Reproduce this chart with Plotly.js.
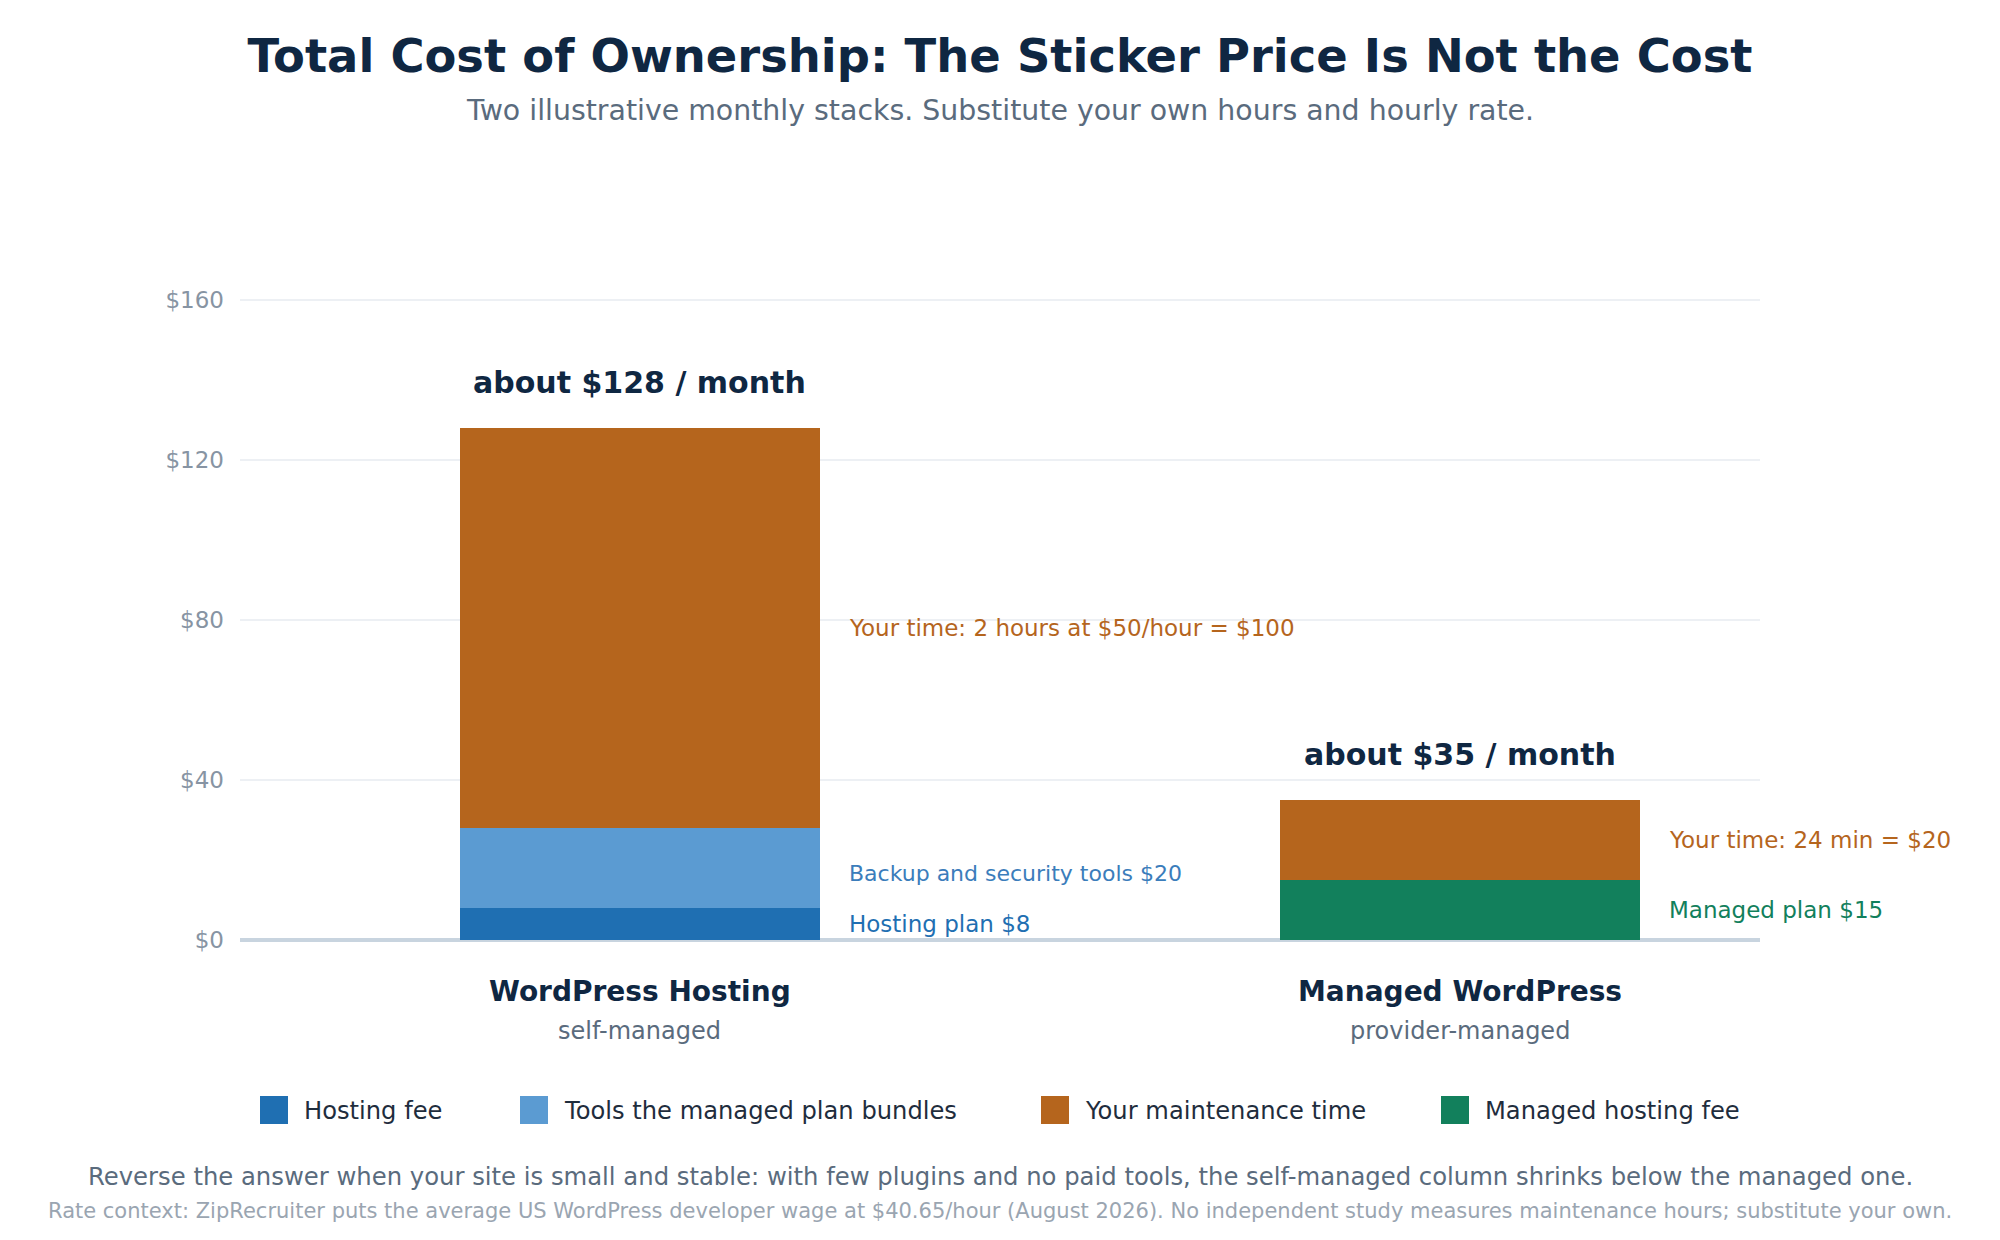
<!DOCTYPE html>
<html>
<head>
<meta charset="utf-8">
<script src="https://cdn.plot.ly/plotly-3.0.1.min.js"></script>
<style>
  body { margin: 0; background: #fff; }
  #tco { width: 2000px; height: 1240px; }
</style>
</head>
<body>
<div id="tco"></div>
<script>
// two illustrative monthly stacks
var columns = ['WordPress Hosting', 'Managed WordPress'];
var columnNotes = ['self-managed', 'provider-managed'];

var seriesNames = ['Hosting fee', 'Tools the managed plan bundles', 'Your maintenance time', 'Managed hosting fee'];
var hostingFee = [8, null];
var bundledTools = [20, null];
var maintenanceTime = [100, 20];
var managedFee = [null, 15];

var totalLabels = ['about $128 / month', 'about $35 / month'];
var hostingLabels = ['Hosting plan $8', null];
var toolsLabels = ['Backup and security tools $20', null];
var timeLabels = ['Your time: 2 hours at $50/hour = $100', 'Your time: 24 min = $20'];
var managedLabels = [null, 'Managed plan $15'];

var yTicks = [0, 40, 80, 120, 160];
var yTickText = ['$0', '$40', '$80', '$120', '$160'];

var subTitle = 'Two illustrative monthly stacks. Substitute your own hours and hourly rate.';
var footNote = 'Reverse the answer when your site is small and stable: with few plugins and no paid tools, the self-managed column shrinks below the managed one.';
var sourceNote = 'Rate context: ZipRecruiter puts the average US WordPress developer wage at $40.65/hour (August 2026). No independent study measures maintenance hours; substitute your own.';

var colors = {
    hosting: '#1f6fb2',
    tools: '#5b9bd2',
    time: '#b5651d',
    managed: '#12805c',
    toolsText: '#3b7dbb',
    ink: '#0f2742',
    legendInk: '#1f2d3d',
    muted: '#5a6b7d',
    faint: '#9aa5b1'
};

var FONT = 'DejaVu Sans, Verdana, sans-serif';
var W = 2000, H = 1240;
var M = {l: 240, r: 240, t: 260, b: 300};
var plotW = W - M.l - M.r, plotH = H - M.t - M.b;
var BAR_W = 0.439;
var xIdx = [0, 1];

// pixel on the page -> paper fraction
function px(X) { return (X - M.l) / plotW; }
function py(Y) { return (H - M.b - Y) / plotH; }

// stacking order, bottom to top (size/shift are just label styling)
var stack = [
    {key: 0, y: hostingFee, color: colors.hosting, label: hostingLabels, text: colors.hosting, size: 23, shift: 0},
    {key: 1, y: bundledTools, color: colors.tools, label: toolsLabels, text: colors.toolsText, size: 22, shift: -5},
    {key: 3, y: managedFee, color: colors.managed, label: managedLabels, text: colors.managed, size: 23, shift: 0},
    {key: 2, y: maintenanceTime, color: colors.time, label: timeLabels, text: colors.time, size: 23, shift: 0}
];

var data = stack.map(function (s) {
    return {
        type: 'bar',
        x: xIdx,
        y: s.y,
        name: seriesNames[s.key],
        width: BAR_W,
        marker: {color: s.color, line: {width: 0}},
        hoverinfo: 'name+y',
        showlegend: false
    };
});

var annotations = [];
var shapes = [];

// segment labels beside each block
var running = [0, 0];
stack.forEach(function (s) {
    s.y.forEach(function (v, i) {
        if (v == null) return;
        var mid = running[i] + v / 2;
        running[i] += v;
        if (s.label[i]) {
            annotations.push({
                x: xIdx[i] + BAR_W / 2, y: mid, xref: 'x', yref: 'y',
                xanchor: 'left', yanchor: 'middle', xshift: 27, yshift: s.shift,
                text: s.label[i], showarrow: false,
                font: {family: FONT, size: s.size, color: s.text}
            });
        }
    });
});

// totals on top, column names under the axis
running.forEach(function (tot, i) {
    annotations.push({
        x: xIdx[i], y: tot, xref: 'x', yref: 'y',
        yanchor: 'middle', yshift: 46,
        text: '<b>' + totalLabels[i] + '</b>', showarrow: false,
        font: {family: FONT, size: 30, color: colors.ink}
    });
    annotations.push({
        x: xIdx[i], y: 0, xref: 'x', yref: 'y',
        yanchor: 'middle', yshift: -51,
        text: '<b>' + columns[i] + '</b>', showarrow: false,
        font: {family: FONT, size: 28, color: colors.ink}
    });
    annotations.push({
        x: xIdx[i], y: 0, xref: 'x', yref: 'y',
        yanchor: 'middle', yshift: -91,
        text: columnNotes[i], showarrow: false,
        font: {family: FONT, size: 24, color: colors.muted}
    });
});

// legend drawn by hand so the swatches can be 28px
var legendColors = [colors.hosting, colors.tools, colors.time, colors.managed];
var legendX = [260, 520, 1041, 1441];
seriesNames.forEach(function (name, i) {
    shapes.push({
        type: 'rect', xref: 'paper', yref: 'paper',
        x0: px(legendX[i]), x1: px(legendX[i] + 28),
        y0: py(1124), y1: py(1096),
        fillcolor: legendColors[i], line: {width: 0}
    });
    annotations.push({
        x: px(legendX[i] + 42), y: py(1111), xref: 'paper', yref: 'paper',
        xanchor: 'left', yanchor: 'middle', text: name, showarrow: false,
        font: {family: FONT, size: 24.2, color: colors.legendInk}
    });
});

annotations.push({
    x: 0.5, y: py(111), xref: 'paper', yref: 'paper',
    xanchor: 'center', yanchor: 'middle', text: subTitle,
    showarrow: false, font: {family: FONT, size: 28.4, color: colors.muted}
});
annotations.push({
    x: 0.5, y: py(1176), xref: 'paper', yref: 'paper',
    xanchor: 'center', yanchor: 'middle', text: footNote,
    showarrow: false, font: {family: FONT, size: 24.3, color: colors.muted}
});
annotations.push({
    x: 0.5, y: py(1211), xref: 'paper', yref: 'paper',
    xanchor: 'center', yanchor: 'middle', text: sourceNote,
    showarrow: false, font: {family: FONT, size: 21, color: colors.faint}
});

var layout = {
    width: W,
    height: H,
    margin: M,
    paper_bgcolor: '#ffffff',
    plot_bgcolor: '#ffffff',
    barmode: 'stack',
    font: {family: FONT, color: colors.ink},
    title: {
        text: '<b>Total Cost of Ownership: The Sticker Price Is Not the Cost</b>',
        x: 0.5, xanchor: 'center',
        y: 1 - 56 / H, yref: 'container', yanchor: 'middle',
        font: {family: FONT, size: 46.4, color: colors.ink}
    },
    xaxis: {
        range: [-0.4878, 1.3659],
        showticklabels: false,
        showgrid: false,
        zeroline: false,
        showline: false,
        fixedrange: true
    },
    yaxis: {
        range: [0, 170],
        tickvals: yTicks,
        ticktext: yTickText,
        tickfont: {family: FONT, size: 23, color: '#8794a3'},
        ticks: '',
        ticklabelstandoff: 15,
        gridcolor: '#edf0f4',
        gridwidth: 1.5,
        zeroline: true,
        zerolinecolor: '#c8d4df',
        zerolinewidth: 4,
        showline: false,
        fixedrange: true
    },
    showlegend: false,
    shapes: shapes,
    annotations: annotations
};

Plotly.newPlot('tco', data, layout, {displayModeBar: false});
</script>
</body>
</html>
